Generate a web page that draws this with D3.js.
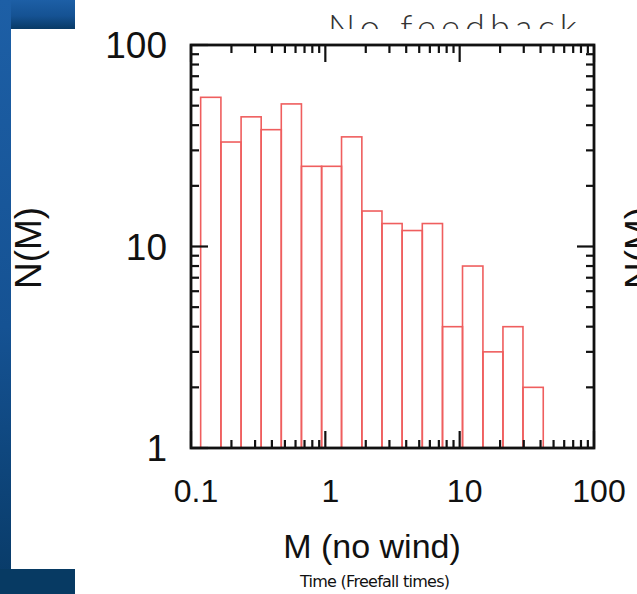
<!DOCTYPE html>
<html>
<head>
<meta charset="utf-8">
<script src="https://cdn.jsdelivr.net/npm/d3@7"></script>
<style>
  body { margin: 0; background: #fff; }
  svg { display: block; }
</style>
</head>
<body>
<div id="drawingfield"></div>
<script>
// histogram bins (edges in solar masses) and counts
var binEdges = [0.118, 0.167, 0.236, 0.333, 0.47, 0.664, 0.938, 1.32, 1.87, 2.64, 3.73, 5.27, 7.45, 10.5, 14.9, 21.0, 29.6, 41.9];
var counts = [55, 33, 44, 38, 51, 25, 25, 35, 15, 13, 12, 13, 4, 8, 3, 4, 2];

// tick labels
var xTickValues = [0.1, 1, 10, 100];
var xTickLabels = ["0.1", "1", "10", "100"];
var yTickValues = [1, 10, 100];
var yTickLabels = ["1", "10", "100"];

var width = 637;
var height = 594;

// plot frame
var plotLeft = 191, plotRight = 594, plotTop = 45, plotBottom = 448;

var svg = d3.select("#drawingfield")
    .append("svg")
    .attr("width", width)
    .attr("height", height);

var defs = svg.append("defs");
var grad = defs.append("linearGradient")
    .attr("id", "slideblue")
    .attr("x1", 0).attr("y1", 0).attr("x2", 0).attr("y2", 1);
grad.append("stop").attr("offset", "0%").attr("stop-color", "#1d5fa6");
grad.append("stop").attr("offset", "55%").attr("stop-color", "#155293");
grad.append("stop").attr("offset", "100%").attr("stop-color", "#083a66");

// slide background pieces
svg.append("rect").attr("x", 0).attr("y", 0).attr("width", width).attr("height", height).attr("fill", "#fff");
svg.append("rect").attr("x", 0).attr("y", 0).attr("width", 75).attr("height", 29).attr("fill", "url(#slideblue)");
svg.append("rect").attr("x", 0).attr("y", 0).attr("width", 11).attr("height", height).attr("fill", "url(#slideblue)");
svg.append("rect").attr("x", 0).attr("y", 569).attr("width", 75).attr("height", 25).attr("fill", "#073a63");

// slide title, hidden behind the figure image
svg.append("text")
    .attr("x", 328).attr("y", 40)
    .attr("textLength", 249)
    .attr("font-family", "Lato, 'Open Sans', sans-serif")
    .attr("font-weight", 300)
    .attr("font-size", 36)
    .attr("fill", "#333")
    .text("No feedback");

// the figure image panel
svg.append("rect").attr("x", 11).attr("y", 29).attr("width", width - 11).attr("height", 540).attr("fill", "#fff");

// scales
var x = d3.scaleLog().domain([0.1, 100]).range([plotLeft, plotRight]);
var y = d3.scaleLog().domain([1, 100]).range([plotBottom, plotTop]);

// bars
var bars = counts.map(function(c, i) {
    return { x0: binEdges[i], x1: binEdges[i + 1], n: c };
});

svg.append("g").selectAll("rect")
    .data(bars)
    .enter()
    .append("rect")
    .attr("x", function(d) { return x(d.x0); })
    .attr("y", function(d) { return y(d.n); })
    .attr("width", function(d) { return x(d.x1) - x(d.x0); })
    .attr("height", function(d) { return y(1) - y(d.n); })
    .attr("fill", "none")
    .attr("stroke", "#ef5e5e")
    .attr("stroke-width", 1.6);

// log ticks on all four sides, pointing inward
var xTicks = x.ticks();
var yTicks = y.ticks();
var isMajor = function(v) { return Math.abs(Math.log10(v) - Math.round(Math.log10(v))) < 1e-6; };
var tickG = svg.append("g").attr("stroke", "#111").attr("stroke-width", 2.2);

xTicks.forEach(function(v) {
    var len = isMajor(v) ? 17 : 8;
    tickG.append("line").attr("x1", x(v)).attr("x2", x(v)).attr("y1", plotBottom).attr("y2", plotBottom - len);
    tickG.append("line").attr("x1", x(v)).attr("x2", x(v)).attr("y1", plotTop).attr("y2", plotTop + len);
});
yTicks.forEach(function(v) {
    var len = isMajor(v) ? 17 : 8;
    tickG.append("line").attr("x1", plotLeft).attr("x2", plotLeft + len).attr("y1", y(v)).attr("y2", y(v));
    tickG.append("line").attr("x1", plotRight).attr("x2", plotRight - len).attr("y1", y(v)).attr("y2", y(v));
});

// frame
svg.append("rect")
    .attr("x", plotLeft).attr("y", plotTop)
    .attr("width", plotRight - plotLeft).attr("height", plotBottom - plotTop)
    .attr("fill", "none")
    .attr("stroke", "#111")
    .attr("stroke-width", 2.8);

// tick labels
svg.append("g").selectAll("text")
    .data(xTickValues)
    .enter()
    .append("text")
    .attr("x", function(d) { return x(d) + 5; })
    .attr("y", 502)
    .attr("text-anchor", "middle")
    .attr("font-family", "'Liberation Sans', Arial, sans-serif")
    .attr("font-size", 32)
    .attr("fill", "#111")
    .text(function(d, i) { return xTickLabels[i]; });

svg.append("g").selectAll("text")
    .data(yTickValues)
    .enter()
    .append("text")
    .attr("x", 167)
    .attr("y", function(d) { return y(d) + 13; })
    .attr("text-anchor", "end")
    .attr("font-family", "'Liberation Sans', Arial, sans-serif")
    .attr("font-size", 37)
    .attr("fill", "#111")
    .text(function(d, i) { return yTickLabels[i]; });

// axis titles
svg.append("text")
    .attr("x", 372).attr("y", 558)
    .attr("text-anchor", "middle")
    .attr("font-family", "'Liberation Sans', Arial, sans-serif")
    .attr("font-size", 34)
    .attr("fill", "#111")
    .text("M (no wind)");

[41, 651].forEach(function(bx) {
    svg.append("text")
        .attr("transform", "translate(" + bx + ",248) rotate(-90)")
        .attr("text-anchor", "middle")
        .attr("font-family", "'Liberation Sans', Arial, sans-serif")
        .attr("font-size", 37)
        .attr("fill", "#111")
        .text("N(M)");
});

// slide caption under the figure
svg.append("text")
    .attr("x", 300).attr("y", 587)
    .attr("textLength", 150)
    .attr("font-family", "'DejaVu Sans', sans-serif")
    .attr("font-size", 16)
    .attr("fill", "#111")
    .text("Time (Freefall times)");
</script>
</body>
</html>
